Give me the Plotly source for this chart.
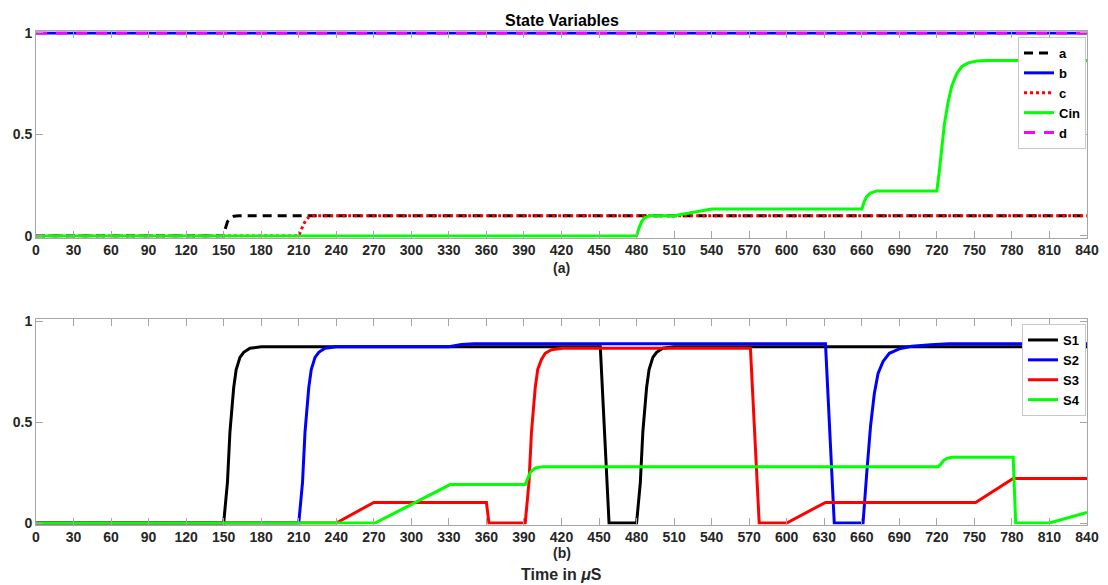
import plotly.graph_objects as go

# ---------------- data ----------------
x_ticks = list(range(0, 841, 30))
y_ticks = [0, 0.5, 1]
y_tick_text = ["0", "0.5", "1"]

# top panel: state variables
t_a = [0, 150, 151.5, 153, 155, 158, 162, 840]
v_a = [0, 0, 0.04, 0.07, 0.088, 0.097, 0.1, 0.1]

t_b = [0, 840]
v_b = [1, 1]

t_c = [0, 210, 212, 214, 216, 218, 221, 840]
v_c = [0, 0, 0.03, 0.06, 0.08, 0.093, 0.1, 0.1]

t_cin = [0, 480, 482, 484, 486, 490, 510, 540, 660, 662, 664, 667, 672, 720,
         722, 724, 726, 729, 732, 736, 740, 745, 752, 760, 840]
v_cin = [0, 0, 0.04, 0.07, 0.088, 0.1, 0.1, 0.133, 0.133, 0.17, 0.195, 0.212, 0.222, 0.222,
         0.32, 0.45, 0.55, 0.66, 0.74, 0.8, 0.835, 0.853, 0.862, 0.865, 0.865]

t_d = [0, 840]
v_d = [1, 1]

# bottom panel: S1..S4
t_s1 = [0, 150, 153, 155, 158, 160, 163, 166, 171, 180, 451, 458, 480,
        483, 485, 488, 490, 493, 496, 501, 510, 840]
v_s1 = [0, 0, 0.2, 0.45, 0.67, 0.76, 0.82, 0.845, 0.865, 0.873, 0.873, 0, 0,
        0.2, 0.45, 0.67, 0.76, 0.82, 0.845, 0.865, 0.873, 0.873]

t_s2 = [0, 210, 213, 215, 218, 220, 223, 226, 231, 240, 330, 335, 340, 350,
        631, 638, 661, 664, 667, 670, 673, 677, 682, 690, 700, 715, 730, 840]
v_s2 = [0, 0, 0.2, 0.45, 0.67, 0.76, 0.82, 0.845, 0.865, 0.873, 0.873, 0.879, 0.884, 0.887,
        0.887, 0, 0, 0.25, 0.48, 0.64, 0.74, 0.8, 0.84, 0.862, 0.875, 0.883, 0.887, 0.887]

t_s3 = [0, 240, 270, 360, 362, 391, 394, 396, 399, 401, 404, 407, 412, 421,
        571, 578, 600, 631, 751, 781, 840]
v_s3 = [0, 0, 0.102, 0.102, 0, 0, 0.2, 0.45, 0.67, 0.76, 0.81, 0.84, 0.858, 0.865,
        0.865, 0, 0, 0.102, 0.102, 0.22, 0.22]

t_s4 = [0, 271, 331, 391, 393, 395, 397, 399, 402, 406, 721, 723, 725, 728, 732,
        781, 783, 810, 840]
v_s4 = [0, 0, 0.19, 0.19, 0.22, 0.25, 0.263, 0.271, 0.276, 0.278, 0.278, 0.29, 0.308, 0.32, 0.325,
        0.325, 0, 0, 0.052]

# ---------------- figure ----------------
OFF = 8                      # page body margin
W, H = 1108 - OFF, 585 - OFF
FONT = "Liberation Sans, Arial, sans-serif"
TXT = "#262626"
AX = "#a6a6a6"
LW = 3

fig = go.Figure()

def add(t, v, name, color, dash, xa, ya, legend):
    fig.add_trace(go.Scatter(x=t, y=v, name=name, mode="lines",
                             line=dict(color=color, width=LW, dash=dash),
                             xaxis=xa, yaxis=ya, legend=legend))

add(t_a, v_a, "a", "#000000", "9px,6px", "x", "y", "legend")
add(t_b, v_b, "b", "#0000ff", "solid", "x", "y", "legend")
add(t_c, v_c, "c", "#ff0000", "3px,3px", "x", "y", "legend")
add(t_cin, v_cin, "Cin", "#00ff00", "solid", "x", "y", "legend")
add(t_d, v_d, "d", "#ff00ff", "11px,9px", "x", "y", "legend")

add(t_s1, v_s1, "S1", "#000000", "solid", "x2", "y2", "legend2")
add(t_s2, v_s2, "S2", "#0000ff", "solid", "x2", "y2", "legend2")
add(t_s3, v_s3, "S3", "#ff0000", "solid", "x2", "y2", "legend2")
add(t_s4, v_s4, "S4", "#00ff00", "solid", "x2", "y2", "legend2")

pad = 0.008
def py(pix):
    return 1 - (pix - OFF) / H
def px(pix):
    return (pix - OFF) / W

x_dom = [px(36), px(1087)]
top_dom = [py(236 + pad * 203), py(33 - pad * 203)]
bot_dom = [py(523 + pad * 202), py(321 - pad * 202)]
xc = (x_dom[0] + x_dom[1]) / 2

xcommon = dict(range=[0, 840], tickvals=x_ticks, ticks="inside", ticklen=7,
               tickcolor=AX, showline=True, linecolor=AX, linewidth=1, mirror="ticks",
               showgrid=False, zeroline=False, automargin=False,
               tickfont=dict(family=FONT, size=14, color=TXT, weight="bold"),
               domain=x_dom)
ycommon = dict(range=[-pad, 1 + pad], tickvals=y_ticks, ticktext=y_tick_text,
               ticks="inside", ticklen=7, tickcolor=AX, showline=True, linecolor=AX,
               linewidth=1, mirror="ticks", showgrid=False, zeroline=False, automargin=False,
               tickfont=dict(family=FONT, size=14, color=TXT, weight="bold"))

legcommon = dict(bgcolor="white", bordercolor="#c8c8c8", borderwidth=1,
                 font=dict(family=FONT, size=13, color="#000000", weight="bold"),
                 xanchor="right", yanchor="top", itemwidth=30, tracegroupgap=0)

def label(text, ypix, size, color=TXT):
    return dict(text=text, x=xc, y=py(ypix), xref="paper", yref="paper",
                xanchor="center", yanchor="middle", showarrow=False,
                font=dict(family=FONT, size=size, color=color))

fig.update_layout(
    width=W, height=H,
    margin=dict(l=0, r=0, t=0, b=0, autoexpand=False),
    paper_bgcolor="white", plot_bgcolor="white",
    showlegend=True,
    xaxis=dict(**xcommon, anchor="y"),
    yaxis=dict(**ycommon, domain=top_dom, anchor="x"),
    xaxis2=dict(**xcommon, anchor="y2"),
    yaxis2=dict(**ycommon, domain=bot_dom, anchor="x2"),
    legend=dict(**legcommon, x=px(1086), y=py(37)),
    legend2=dict(**legcommon, x=px(1086), y=py(324)),
    annotations=[
        label("<b>State Variables</b>", 20, 16, "#000000"),
        label("<b>(a)</b>", 268, 14),
        label("<b>(b)</b>", 553, 14),
        label("<b>Time in <i>μ</i>S</b>", 574, 16),
    ],
)

fig.write_html("out.html")
